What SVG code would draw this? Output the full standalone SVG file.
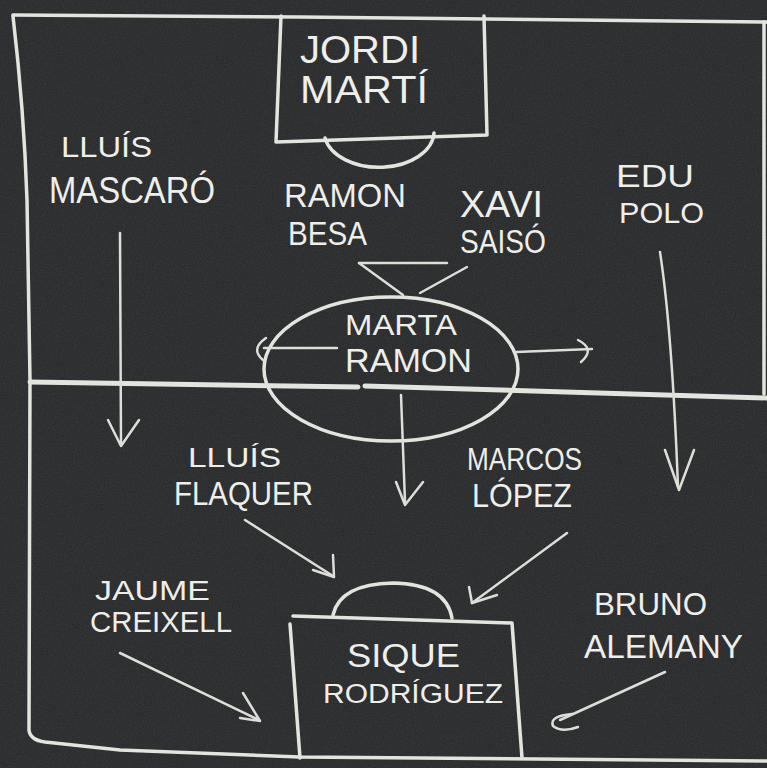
<svg xmlns="http://www.w3.org/2000/svg" width="767" height="768" viewBox="0 0 767 768">
<defs>
<filter id="chalkNoise" x="0" y="0" width="100%" height="100%">
<feTurbulence type="fractalNoise" baseFrequency="0.9" numOctaves="2" seed="4" result="n"/>
<feColorMatrix in="n" type="matrix" values="0 0 0 0 1  0 0 0 0 1  0 0 0 0 1  0 0 0 0.10 0"/>
</filter>
<style>
.bg{fill:#232527}
.line{fill:none;stroke:#e4e4df;stroke-width:3.5;stroke-linecap:round;stroke-linejoin:round}
.mid{stroke-width:5}
.arrow{fill:none;stroke:#deded9;stroke-width:2.5;stroke-linecap:round;stroke-linejoin:round}
.lbl{font-family:"Liberation Sans","DejaVu Sans",sans-serif;fill:#eeeeea}
</style>
</defs>
<rect class="bg" x="0" y="0" width="767" height="768"/>
<rect x="0" y="0" width="767" height="768" filter="url(#chalkNoise)"/>

<g id="field">
<path class="line" d="M13,15 L300,17 L767,22"/>
<path class="line" d="M13,16 Q24,110 27,200 L30,380 L29,730 Q30,740 45,742 L120,750 L300,757 L767,761"/>
<path class="line" d="M764,22 L764,394"/>
<path class="line mid" d="M30,382 L358,387"/>
<path class="line mid" d="M365,386 L767,398"/>
<path class="line" d="M281,16 L276,142 L487,135 L484,16"/>
<path class="line" d="M325,138 A55,36 0 0 0 434,133"/>
<ellipse class="line" cx="391" cy="369" rx="127" ry="72"/>
<path class="line" d="M293,616 L512,623 L522,758"/>
<path class="line" d="M290,624 L300,758"/>
<path class="line" d="M333,615 Q340,584 393,583 Q446,584 452,618"/>
</g>

<g id="connectors">
<path class="arrow" d="M120,233 L121,444"/>
<path class="arrow" d="M108,420 L121,446 L139,420"/>
<path class="arrow" d="M660,252 Q672,330 678,487"/>
<path class="arrow" d="M665,450 L679,490 L694,450"/>
<path class="arrow" d="M359,263 L447,263"/>
<path class="arrow" d="M359,263 L403,295"/>
<path class="arrow" d="M467,267 L420,293"/>
<path class="arrow" d="M337,348 L264,348"/>
<path class="arrow" d="M266,338 Q250,349 263,360"/>
<path class="arrow" d="M516,352 L592,349"/>
<path class="arrow" d="M578,340 Q596,349 581,362"/>
<path class="arrow" d="M401,395 L405,502"/>
<path class="arrow" d="M396,482 L405,505 L423,482"/>
<path class="arrow" d="M245,520 L333,576"/>
<path class="arrow" d="M313,570 L334,577 L333,555"/>
<path class="arrow" d="M567,533 L472,603"/>
<path class="arrow" d="M469,587 L472,603 L497,595"/>
<path class="arrow" d="M120,653 L259,720"/>
<path class="arrow" d="M240,718 L260,721 L243,693"/>
<path class="arrow" d="M665,672 L560,720"/>
<path class="arrow" d="M572,714 Q549,716 553,726 Q562,733 578,727"/>
</g>

<g id="jordi-marti">
<text class="lbl" x="300" y="63" font-size="38" textLength="120" lengthAdjust="spacingAndGlyphs">JORDI</text>
<text class="lbl" x="300" y="103" font-size="38" textLength="128" lengthAdjust="spacingAndGlyphs">MARTÍ</text>
</g>
<g id="lluis-mascaro">
<text class="lbl" x="61" y="157" font-size="30" textLength="91" lengthAdjust="spacingAndGlyphs">LLUÍS</text>
<text class="lbl" x="49" y="203" font-size="36" textLength="166" lengthAdjust="spacingAndGlyphs">MASCARÓ</text>
</g>
<g id="ramon-besa">
<text class="lbl" x="284" y="207" font-size="34" textLength="122" lengthAdjust="spacingAndGlyphs">RAMON</text>
<text class="lbl" x="288" y="245" font-size="34" textLength="79" lengthAdjust="spacingAndGlyphs">BESA</text>
</g>
<g id="xavi-saiso">
<text class="lbl" x="460" y="217" font-size="36" textLength="83" lengthAdjust="spacingAndGlyphs">XAVI</text>
<text class="lbl" x="460" y="253" font-size="34" textLength="86" lengthAdjust="spacingAndGlyphs">SAISÓ</text>
</g>
<g id="edu-polo">
<text class="lbl" x="616" y="187" font-size="32" textLength="78" lengthAdjust="spacingAndGlyphs">EDU</text>
<text class="lbl" x="619" y="223" font-size="30" textLength="85" lengthAdjust="spacingAndGlyphs">POLO</text>
</g>
<g id="marta-ramon">
<text class="lbl" x="345" y="335" font-size="30" textLength="112" lengthAdjust="spacingAndGlyphs">MARTA</text>
<text class="lbl" x="345" y="372" font-size="33" textLength="127" lengthAdjust="spacingAndGlyphs">RAMON</text>
</g>
<g id="lluis-flaquer">
<text class="lbl" x="188" y="467" font-size="28" textLength="93" lengthAdjust="spacingAndGlyphs">LLUÍS</text>
<text class="lbl" x="174" y="505" font-size="33" textLength="139" lengthAdjust="spacingAndGlyphs">FLAQUER</text>
</g>
<g id="marcos-lopez">
<text class="lbl" x="467" y="470" font-size="31" textLength="115" lengthAdjust="spacingAndGlyphs">MARCOS</text>
<text class="lbl" x="472" y="507" font-size="34" textLength="100" lengthAdjust="spacingAndGlyphs">LÓPEZ</text>
</g>
<g id="jaume-creixell">
<text class="lbl" x="95" y="600" font-size="28" textLength="115" lengthAdjust="spacingAndGlyphs">JAUME</text>
<text class="lbl" x="90" y="632" font-size="29" textLength="142" lengthAdjust="spacingAndGlyphs">CREIXELL</text>
</g>
<g id="bruno-alemany">
<text class="lbl" x="594" y="615" font-size="31" textLength="113" lengthAdjust="spacingAndGlyphs">BRUNO</text>
<text class="lbl" x="584" y="658" font-size="33" textLength="159" lengthAdjust="spacingAndGlyphs">ALEMANY</text>
</g>
<g id="sique-rodriguez">
<text class="lbl" x="347" y="667" font-size="34" textLength="113" lengthAdjust="spacingAndGlyphs">SIQUE</text>
<text class="lbl" x="323" y="703" font-size="27" textLength="180" lengthAdjust="spacingAndGlyphs">RODRÍGUEZ</text>
</g>
</svg>
